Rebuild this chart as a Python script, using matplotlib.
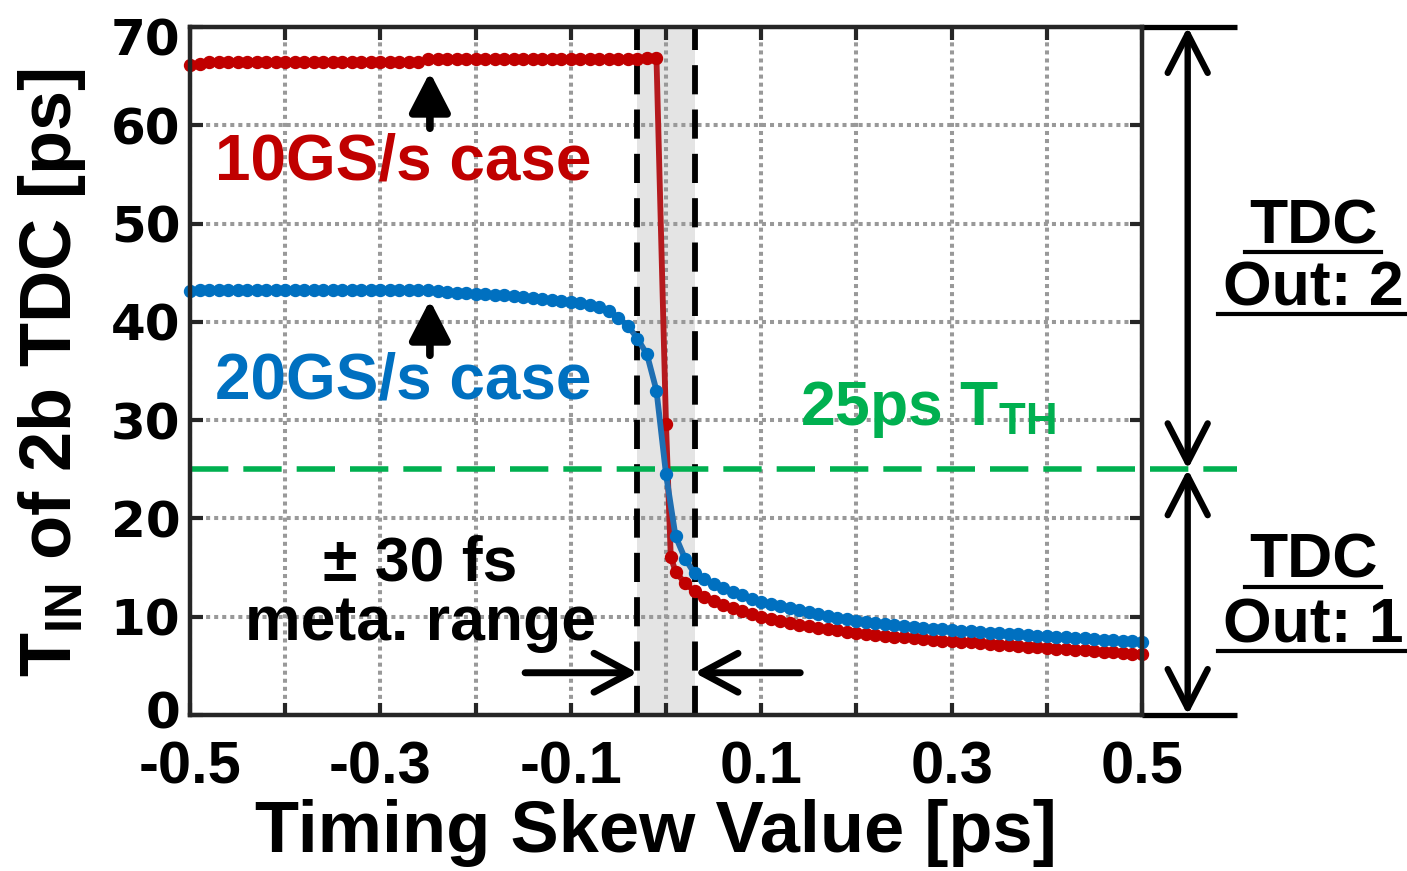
import numpy as np
import matplotlib
matplotlib.use('Agg')
import matplotlib.pyplot as plt
from matplotlib.lines import Line2D
from matplotlib.transforms import ScaledTranslation

plt.rcParams['font.family'] = ['Liberation Sans', 'DejaVu Sans']
plt.rcParams['font.weight'] = 'bold'
plt.rcParams['mathtext.fontset'] = 'custom'
plt.rcParams['mathtext.default'] = 'regular'
plt.rcParams['axes.unicode_minus'] = False

# ---- data ----
skew = np.round(np.linspace(-0.5, 0.5, 101), 3)      # timing skew [ps]
red_x = np.insert(skew, 51, 0.005)                    # 10GS/s has one extra point at 5 fs

tin_10g = [66.1, 66.2, 66.4, 66.4, 66.4, 66.4, 66.4, 66.4, 66.4, 66.4,
           66.4, 66.4, 66.4, 66.4, 66.4, 66.4, 66.4, 66.4, 66.4, 66.4,
           66.4, 66.4, 66.4, 66.4, 66.4, 66.7, 66.7, 66.7, 66.7, 66.7,
           66.7, 66.7, 66.7, 66.7, 66.7, 66.7, 66.7, 66.7, 66.7, 66.7,
           66.7, 66.7, 66.7, 66.7, 66.7, 66.7, 66.7, 66.7, 66.8, 66.8,
           29.6, 16.1,
           14.6, 13.4, 12.6, 12.0, 11.6, 11.2, 10.9, 10.6, 10.3, 10.0,
           9.8, 9.6, 9.4, 9.2, 9.05, 8.9, 8.75, 8.6, 8.45, 8.3,
           8.2, 8.1, 8.0, 7.95, 7.9, 7.8, 7.7, 7.65, 7.55, 7.5,
           7.45, 7.4, 7.3, 7.25, 7.15, 7.1, 7.0, 6.95, 6.9, 6.8,
           6.75, 6.7, 6.65, 6.6, 6.5, 6.45, 6.4, 6.3, 6.25, 6.2]

tin_20g = [43.1, 43.2, 43.2, 43.2, 43.2, 43.2, 43.2, 43.2, 43.2, 43.2,
           43.2, 43.2, 43.2, 43.2, 43.2, 43.2, 43.2, 43.2, 43.2, 43.2,
           43.2, 43.2, 43.2, 43.2, 43.2, 43.2, 43.1, 43.0, 42.9, 42.9,
           42.8, 42.8, 42.7, 42.7, 42.6, 42.5, 42.4, 42.3, 42.2, 42.1,
           42.0, 41.9, 41.7, 41.5, 41.1, 40.4, 39.6, 38.3, 36.7, 33.0,
           24.5,
           18.2, 15.9, 14.4, 13.8, 13.3, 12.9, 12.5, 12.2, 11.8, 11.5,
           11.3, 11.1, 10.9, 10.7, 10.5, 10.3, 10.1, 9.9, 9.75, 9.6,
           9.5, 9.4, 9.3, 9.2, 9.1, 9.0, 8.9, 8.8, 8.7, 8.6,
           8.55, 8.5, 8.4, 8.35, 8.3, 8.25, 8.2, 8.1, 8.05, 8.0,
           7.95, 7.9, 7.85, 7.8, 7.7, 7.65, 7.6, 7.55, 7.5, 7.45]

x_ticks = np.round(np.arange(-0.5, 0.51, 0.1), 1)
x_ticklabels = ['-0.5', '', '-0.3', '', '-0.1', '', '0.1', '', '0.3', '', '0.5']
y_ticks = [0, 10, 20, 30, 40, 50, 60, 70]
t_th = 25          # threshold [ps]
meta = 0.03        # +-30 fs

cols = {'red': '#C00000', 'redl': '#B51A1E', 'blue': '#0070C0', 'bluel': '#1F6FB2',
        'green': '#00B050', 'grid': '#999999', 'spine': '#262626', 'shade': '#E4E4E4'}

fig = plt.figure(figsize=(14.07, 8.71), dpi=100)
ax = fig.add_axes([190/1407, 1-715/871, 952/1407, 688/871])

ax.axvspan(-meta, meta, color=cols['shade'], zorder=0.2, lw=0)
for v in (-meta, meta):
    ax.axvline(v, color='k', lw=4.2, dashes=(5.0, 2.6), zorder=1.5)

ax.plot([-0.5, 0.6], [t_th, t_th], color=cols['green'], lw=4.0, dashes=(6.9, 2.7),
        clip_on=False, zorder=1.6)

ax.plot(red_x, tin_10g, '-o', color=cols['redl'], mfc=cols['red'], mec=cols['red'],
        lw=4.2, ms=8.6, zorder=3, clip_on=False)
ax.plot(skew, tin_20g, '-o', color=cols['bluel'], mfc=cols['blue'], mec=cols['blue'],
        lw=4.2, ms=8.6, zorder=3.1, clip_on=False)

ax.set_xlim(-0.5, 0.5)
ax.set_ylim(0, 70)
ax.set_xticks(x_ticks)
ax.set_xticklabels(x_ticklabels)
ax.set_yticks(y_ticks)
ax.set_axisbelow(True)
ax.grid(True, color=cols['grid'], lw=2.9, linestyle=(0, (1.0, 1.0)))
ax.tick_params(direction='in', length=9, width=3, color=cols['spine'],
               top=True, right=True)
ax.tick_params(axis='x', labelsize=43, pad=18)
ax.tick_params(axis='y', pad=7)
for lab in ax.get_yticklabels():
    lab.set_fontfamily('DejaVu Sans')
    lab.set_fontsize(36)
    lab.set_fontweight('bold')
# end labels sit a little inward, as in the original
ylabs = ax.get_yticklabels()
ylabs[0].set_transform(ylabs[0].get_transform() + ScaledTranslation(0, 6/100, fig.dpi_scale_trans))
ylabs[-1].set_transform(ylabs[-1].get_transform() + ScaledTranslation(0, -9/100, fig.dpi_scale_trans))
for s in ax.spines.values():
    s.set_linewidth(3.2)
    s.set_color(cols['spine'])
    s.set_zorder(4)

# labels
fig.text(656/1407, 1-852/871, 'Timing Skew Value [ps]', ha='center', va='baseline',
         fontsize=52, fontweight='bold')
fig.text(52/1407, 1-372/871, 'T$_{IN}$ of 2b TDC [ps]', ha='center', va='center',
         rotation=90, fontsize=52, fontweight='bold')

# curve names and annotations
ax.text(-0.276, 54.5, '10GS/s case', color=cols['red'], fontsize=46,
        fontweight='bold', ha='center', va='baseline', zorder=5)
ax.text(-0.276, 32.2, '20GS/s case', color=cols['blue'], fontsize=46,
        fontweight='bold', ha='center', va='baseline', zorder=5)
ax.text(0.141, 29.5, '25ps T$_{TH}$', color=cols['green'], fontsize=45,
        fontweight='bold', ha='left', va='baseline', zorder=5)
ax.text(-0.258, 13.7, '\u00b1 30 fs', fontsize=45, fontweight='bold',
        ha='center', va='baseline', zorder=5)
ax.text(-0.258, 7.6, 'meta. range', fontsize=45, fontweight='bold',
        ha='center', va='baseline', zorder=5)

up = dict(arrowstyle='-|>,head_length=1.2,head_width=0.62', color='k', lw=5.5,
          mutation_scale=20, shrinkA=0, shrinkB=0)
ax.annotate('', xy=(-0.248, 65.4), xytext=(-0.248, 59.7), arrowprops=up, zorder=5)
ax.annotate('', xy=(-0.248, 42.2), xytext=(-0.248, 36.6), arrowprops=up, zorder=5)

side = dict(arrowstyle='->,head_length=1.3,head_width=0.7', color='k', lw=5.0,
            mutation_scale=20, shrinkA=0, shrinkB=0)
ax.annotate('', xy=(-meta, 4.3), xytext=(-0.148, 4.3), arrowprops=side, zorder=5)
ax.annotate('', xy=(meta, 4.3), xytext=(0.141, 4.3), arrowprops=side, zorder=5)

# TDC output ranges on the right
dbl = dict(arrowstyle='<->,head_length=1.4,head_width=0.72', color='k', lw=4.6,
           mutation_scale=20, shrinkA=0, shrinkB=0)
ax.annotate('', xy=(0.548, 70), xytext=(0.548, t_th), arrowprops=dbl,
            annotation_clip=False)
ax.annotate('', xy=(0.548, 0), xytext=(0.548, t_th), arrowprops=dbl,
            annotation_clip=False)
for yy in (0, 70):
    ax.plot([0.5, 0.6], [yy, yy], color='k', lw=3.8, clip_on=False,
            solid_capstyle='butt', zorder=4)

out_texts = []
for txt, base in [('TDC', 243), ('Out: 2', 305), ('TDC', 578), ('Out: 1', 642)]:
    t = fig.text(1313/1407, 1-base/871, txt, ha='center', va='baseline',
                 fontsize=45, fontweight='bold')
    out_texts.append((t, base))

fig.canvas.draw()
r = fig.canvas.get_renderer()
W = fig.bbox.width
for t, base in out_texts:
    bb = t.get_window_extent(r)
    yl = 1 - (base + 9) / 871
    fig.add_artist(Line2D([bb.x0 / W - 0.003, bb.x1 / W + 0.003], [yl, yl],
                          color='k', lw=3.0, transform=fig.transFigure))

fig.savefig('out.png', dpi=100)
